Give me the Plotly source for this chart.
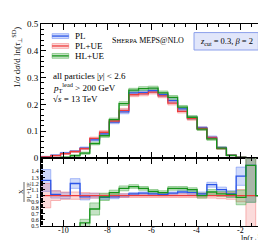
import plotly.graph_objects as go

# ---- data ----
bin_edges = [round(-11 + 0.44 * k, 2) for k in range(24)]  # 23 bins shown
x_ticks = [-10, -8, -6, -4, -2]
x_tick_labels = ["-10", "-8", "-6", "-4", "-2"]
pl      = [0.004, 0.010, 0.018, 0.025, 0.037, 0.068, 0.090, 0.134, 0.172, 0.243, 0.245, 0.251, 0.236, 0.214, 0.183, 0.150, 0.112, 0.077, 0.038, 0.010, 0.002, 0.0, 0.0]
pl_ue   = [0.004, 0.009, 0.016, 0.024, 0.035, 0.073, 0.096, 0.138, 0.178, 0.236, 0.239, 0.246, 0.232, 0.205, 0.174, 0.147, 0.110, 0.075, 0.036, 0.010, 0.002, 0.0, 0.0]
hl_ue   = [0.0, 0.0, 0.002, 0.009, 0.018, 0.054, 0.083, 0.143, 0.203, 0.253, 0.259, 0.261, 0.243, 0.226, 0.190, 0.152, 0.108, 0.071, 0.037, 0.010, 0.002, 0.0, 0.0]
err_main = [0.002, 0.002, 0.003, 0.003, 0.004, 0.005, 0.006, 0.006, 0.007, 0.007, 0.007, 0.007, 0.007, 0.007, 0.006, 0.006, 0.005, 0.005, 0.004, 0.002, 0.002, 0.0, 0.0]

r_pl    = [1.25, 1.02, 1.00, 1.20, 0.98, 1.00, 0.97, 0.98, 1.00, 1.03, 1.04, 1.03, 1.02, 1.04, 1.06, 1.05, 1.03, 1.18, 1.10, 1.03, 1.32, 1.50, 1.00]
r_pl_e  = [0.18, 0.06, 0.05, 0.08, 0.05, 0.04, 0.03, 0.03, 0.03, 0.02, 0.02, 0.02, 0.02, 0.02, 0.03, 0.03, 0.03, 0.04, 0.04, 0.05, 0.15, 0.61, 0.0]
r_ref_e = [0.20, 0.08, 0.06, 0.06, 0.05, 0.04, 0.03, 0.03, 0.03, 0.03, 0.03, 0.03, 0.03, 0.03, 0.03, 0.03, 0.04, 0.04, 0.05, 0.06, 0.10, 0.70, 0.0]
r_hl    = [0.2, 0.2, 0.2, 0.3, 0.55, 0.78, 0.98, 1.05, 1.12, 1.15, 1.12, 1.07, 1.05, 1.12, 1.12, 1.10, 1.00, 1.06, 1.03, 1.02, 0.97, 1.50, 1.00]
r_hl_e  = [0.0, 0.0, 0.0, 0.1, 0.06, 0.1, 0.06, 0.04, 0.04, 0.03, 0.03, 0.03, 0.03, 0.03, 0.03, 0.03, 0.04, 0.04, 0.04, 0.05, 0.12, 0.61, 0.0]

series = [
    ("PL", pl, r_pl, r_pl_e, "#2b55e8", "rgba(90,125,240,0.28)", "rgba(110,140,245,0.7)"),
    ("PL+UE", pl_ue, [1.0] * len(pl_ue), r_ref_e, "#ee3b3b", "rgba(240,110,110,0.25)", "rgba(245,130,130,0.7)"),
    ("HL+UE", hl_ue, r_hl, r_hl_e, "#16941a", "rgba(60,160,60,0.3)", "rgba(90,180,90,0.7)"),
]

FONT = "Liberation Serif"
W, H = 266, 240
ML, MR, MT, MB = 33, 9, 16, 22
PW, PH = W - ML - MR, H - MT - MB

def fx(px):
    return (px - ML) / PW

def fy(py):
    return (H - MB - py) / PH

fig = go.Figure()

def steps(vals):
    return list(vals) + [vals[-1]]

def add_band(lo, hi, bandline, band, xa, ya):
    fig.add_trace(go.Scatter(x=bin_edges, y=steps(lo), mode="lines", line=dict(shape="hv", color=bandline, width=0.8),
                             showlegend=False, xaxis=xa, yaxis=ya, hoverinfo="skip"))
    fig.add_trace(go.Scatter(x=bin_edges, y=steps(hi), mode="lines", line=dict(shape="hv", color=bandline, width=0.8),
                             fill="tonexty", fillcolor=band, showlegend=False, xaxis=xa, yaxis=ya, hoverinfo="skip"))

for name, vals, rv, re, col, band, bandline in series:
    add_band([v - e for v, e in zip(vals, err_main)], [v + e for v, e in zip(vals, err_main)], bandline, band, "x", "y")
for name, vals, rv, re, col, band, bandline in series:
    fig.add_trace(go.Scatter(x=bin_edges, y=steps(vals), mode="lines", line=dict(shape="hv", color=col, width=1.3),
                             showlegend=False, xaxis="x", yaxis="y", name=name))
for name, vals, rv, re, col, band, bandline in series:
    add_band([v - e for v, e in zip(rv, re)], [v + e for v, e in zip(rv, re)], bandline, band, "x2", "y2")
for name, vals, rv, re, col, band, bandline in series:
    fig.add_trace(go.Scatter(x=bin_edges, y=steps(rv), mode="lines", line=dict(shape="hv", color=col, width=1.3),
                             showlegend=False, xaxis="x2", yaxis="y2", name=name))

def axis_common(size):
    return dict(showline=True, linecolor="black", linewidth=1, mirror="ticks", ticks="inside",
                tickcolor="black", showgrid=False, zeroline=False,
                tickfont=dict(family=FONT, size=size, color="black"))

split = fy(150)
fig.update_layout(
    width=W, height=H,
    margin=dict(l=ML, r=MR, t=MT, b=MB),
    paper_bgcolor="white", plot_bgcolor="white",
    showlegend=False,
    xaxis=dict(domain=[0, 1], range=[-11, -0.9], anchor="y", tickvals=x_ticks, ticklen=6,
               showticklabels=False, minor=dict(dtick=0.5, tick0=0, ticklen=3, ticks="inside", tickcolor="black"),
               **axis_common(9)),
    yaxis=dict(domain=[split, 1], range=[0, 0.5], anchor="x", tickvals=[0, 0.1, 0.2, 0.3, 0.4, 0.5],
               ticktext=["0", "0.1", "0.2", "0.3", "0.4", "0.5"], ticklen=5,
               minor=dict(dtick=0.02, tick0=0, ticklen=3, ticks="inside", tickcolor="black"), **axis_common(9)),
    xaxis2=dict(domain=[0, 1], range=[-11, -0.9], anchor="y2", tickvals=x_ticks, ticklen=6,
                showticklabels=False,
                minor=dict(dtick=0.5, tick0=0, ticklen=3, ticks="inside", tickcolor="black"), **axis_common(8)),
    yaxis2=dict(domain=[0, split], range=[0.5, 1.62], anchor="x2",
                tickvals=[0.5, 0.6, 0.7, 0.8, 0.9, 1.0, 1.1, 1.2, 1.3, 1.4],
                ticktext=["0.5", "0.6", "0.7", "0.8", "0.9", "1", "1.1", "1.2", "1.3", "1.4"], ticklen=4,
                minor=dict(dtick=0.02, tick0=0, ticklen=2, ticks="inside", tickcolor="black"), **axis_common(6)),
)

# x tick labels placed close under the ratio axis
for tv, tl in zip(x_ticks, x_tick_labels):
    fig.add_annotation(x=tv, y=fy(216), xref="x2", yref="paper", text=tl, showarrow=False,
                       xanchor="center", yanchor="top", font=dict(family=FONT, size=8, color="black"))

# legend
leg_y = [0.455, 0.418, 0.381]
for (name, vals, rv, re, col, band, bandline), ly in zip(series, leg_y):
    fig.add_shape(type="rect", xref="x", yref="y", x0=-10.5, x1=-9.75, y0=ly - 0.009, y1=ly + 0.009,
                  fillcolor=band, line=dict(color=bandline, width=0.8))
    fig.add_shape(type="line", xref="x", yref="y", x0=-10.5, x1=-9.75, y0=ly, y1=ly, line=dict(color=col, width=1.3))
    fig.add_annotation(x=-9.55, y=ly, xref="x", yref="y", text=name, showarrow=False, xanchor="left",
                       font=dict(family=FONT, size=9, color="black"))

for txt, ty in [("all particles |<i>y</i>| &lt; 2.6", 0.305), ("<i>p</i><sub>T</sub><sup>lead</sup> &gt; 200 GeV", 0.262),
                ("√<i>s</i> = 13 TeV", 0.222)]:
    fig.add_annotation(x=-10.55, y=ty, xref="x", yref="y", text=txt, showarrow=False, xanchor="left",
                       font=dict(family=FONT, size=9, color="black"))

fig.add_annotation(x=-4.45, y=0.437, xref="x", yref="y", text="S<span style='font-size:6.5px'>HERPA</span> MEPS@NLO",
                   showarrow=False, xanchor="right", font=dict(family=FONT, size=8, color="black"))
fig.add_shape(type="rect", xref="x", yref="y", x0=-4.1, x1=-1.2, y0=0.403, y1=0.468,
              fillcolor="rgba(225,230,250,1)", line=dict(color="rgba(140,160,235,1)", width=1))
fig.add_annotation(x=-2.65, y=0.436, xref="x", yref="y", text="<i>z</i><sub>cut</sub> = 0.3, <i>β</i> = 2",
                   showarrow=False, font=dict(family=FONT, size=8.5, color="black"))

# axis titles (pixel positions converted to paper)
fig.add_annotation(x=fx(8), y=fy(50), xref="paper", yref="paper", xanchor="center", yanchor="middle",
                   text="1/<i>σ</i> d<i>σ</i>/d ln(<i>τ</i><sub>⊥</sub><sup>SD</sup>)",
                   showarrow=False, textangle=-90, font=dict(family=FONT, size=9, color="black"))
fig.add_annotation(x=fx(261), y=fy(237), xref="paper", yref="paper", xanchor="right", yanchor="bottom",
                   text="ln(<i>τ</i><sub>⊥</sub><sup>SD</sup>)", borderpad=0,
                   showarrow=False, font=dict(family=FONT, size=8, color="black"))
fig.add_annotation(x=fx(12), y=fy(184), xref="paper", yref="paper", xanchor="center", yanchor="middle",
                   text="X", showarrow=False, textangle=-90,
                   font=dict(family=FONT, size=6.5, color="black"))
fig.add_annotation(x=fx(20), y=fy(184), xref="paper", yref="paper", xanchor="center", yanchor="middle",
                   text="PL+UE", showarrow=False, textangle=-90,
                   font=dict(family=FONT, size=6.5, color="black"))
fig.add_shape(type="line", xref="paper", yref="paper", x0=fx(16), x1=fx(16), y0=fy(174), y1=fy(194),
              line=dict(color="black", width=0.6))

fig.write_html("out.html")
